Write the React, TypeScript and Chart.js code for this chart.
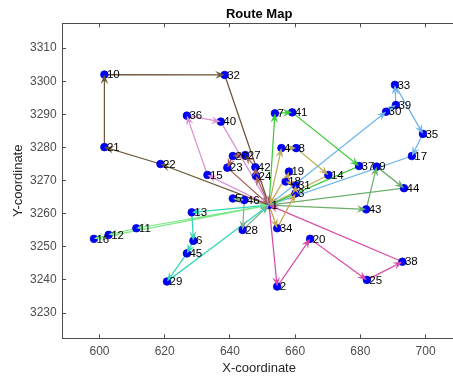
import React, { useEffect, useRef } from "react";
import { Chart, registerables } from "chart.js";

Chart.register(...registerables);

// Node labels and coordinates (node 1 is the depot)
const pointLabels = [
  "1", "2", "3", "4", "5", "6", "7", "8", "9", "10",
  "11", "12", "13", "14", "15", "16", "17", "18", "19", "20",
  "21", "22", "23", "24", "25", "26", "27", "28", "29", "30",
  "31", "32", "33", "34", "35", "36", "37", "38", "39", "40",
  "41", "42", "43", "44", "45", "46",
];
const pointX = [
  652.0, 654.5, 660.1, 655.8, 640.9, 628.8, 653.8, 660.3, 685.0, 601.5,
  611.3, 602.8, 628.3, 670.2, 633.1, 598.3, 695.8, 657.1, 658.1, 664.6,
  601.5, 618.7, 639.2, 648.0, 682.0, 640.9, 644.7, 643.9, 620.7, 687.9,
  660.1, 638.4, 690.6, 654.5, 699.2, 626.8, 679.6, 692.9, 690.9, 637.2,
  659.1, 647.8, 681.8, 693.4, 626.8, 644.4,
];
const pointY = [
  3262.6, 3238.0, 3266.1, 3279.8, 3264.6, 3251.8, 3290.3, 3279.8, 3274.2, 3302.0,
  3255.6, 3253.6, 3260.4, 3271.7, 3271.7, 3252.4, 3277.4, 3269.7, 3272.7, 3252.4,
  3280.1, 3275.0, 3273.9, 3271.4, 3240.0, 3277.4, 3277.7, 3255.1, 3239.5, 3290.8,
  3268.6, 3301.9, 3298.9, 3255.6, 3284.1, 3289.6, 3274.4, 3245.5, 3292.8, 3287.8,
  3290.6, 3274.0, 3261.3, 3267.7, 3248.0, 3264.1,
];

// Vehicle routes as sequences of node labels
const routes = [
  [1, 22, 21, 10, 32, 1],
  [1, 15, 36, 40, 1],
  [1, 24, 42, 27, 26, 23, 1],
  [1, 7, 41, 37, 1],
  [1, 4, 8, 14, 1],
  [1, 34, 3, 31, 18, 19, 1],
  [1, 30, 39, 33, 35, 17, 1],
  [1, 43, 9, 44, 1],
  [1, 2, 20, 25, 38, 1],
  [1, 13, 6, 45, 29, 1],
  [1, 11, 12, 16, 1],
  [1, 5, 46, 28, 1],
];
const routeColors = [
  "#6b5838", "#de8fd6", "#a8605e", "#3ccb3c", "#bcae5c", "#c9a24f",
  "#6fb6ec", "#6aae6a", "#d84aa6", "#33d8b6", "#7ce886", "#86ae90",
];

const xTicks = [600, 620, 640, 660, 680, 700];
const yTicks = [3230, 3240, 3250, 3260, 3270, 3280, 3290, 3300, 3310];

const FONT = "'Liberation Sans', Arial, Helvetica, sans-serif";
const AXIS_COLOR = "#4d4d4d";

const arrowPlugin = {
  id: "arrowHeads",
  afterDatasetsDraw(chart: any) {
    const ctx = chart.ctx;
    ctx.save();
    chart.data.datasets.forEach((ds: any, di: number) => {
      if (!ds.isRoute) return;
      const meta = chart.getDatasetMeta(di);
      const pts = meta.data;
      for (let i = 1; i < pts.length; i++) {
        const a = pts[i - 1];
        const b = pts[i];
        const dx = b.x - a.x;
        const dy = b.y - a.y;
        const len = Math.hypot(dx, dy);
        if (len < 1) continue;
        const ux = dx / len;
        const uy = dy / len;
        const nx = -uy;
        const ny = ux;
        const L = 9.5;
        const W = 3.8;
        ctx.beginPath();
        ctx.moveTo(b.x, b.y);
        ctx.lineTo(b.x - ux * L + nx * W, b.y - uy * L + ny * W);
        ctx.lineTo(b.x - ux * L * 0.62, b.y - uy * L * 0.62);
        ctx.lineTo(b.x - ux * L - nx * W, b.y - uy * L - ny * W);
        ctx.closePath();
        ctx.fillStyle = ds.borderColor;
        ctx.fill();
      }
    });
    ctx.restore();
  },
};

const labelPlugin = {
  id: "pointLabels",
  afterDraw(chart: any) {
    const ctx = chart.ctx;
    const meta = chart.getDatasetMeta(0);
    ctx.save();
    ctx.font = `11.5px ${FONT}`;
    ctx.fillStyle = "#000000";
    ctx.textAlign = "left";
    ctx.textBaseline = "middle";
    meta.data.forEach((el: any, i: number) => {
      ctx.fillText(pointLabels[i], el.x + 2.5, el.y + 0.5);
    });
    ctx.restore();
  },
};

export default function App() {
  const canvasRef = useRef<HTMLCanvasElement | null>(null);

  useEffect(() => {
    if (!canvasRef.current) return;
    const byLabel = (n: number) => {
      const i = pointLabels.indexOf(String(n));
      return { x: pointX[i], y: pointY[i] };
    };
    const pointsDataset = {
      type: "scatter",
      label: "Nodes",
      data: pointX.map((x, i) => ({ x, y: pointY[i] })),
      backgroundColor: "#0000ff",
      borderColor: "#0000c8",
      borderWidth: 0.8,
      pointRadius: 3.8,
      showLine: false,
      order: 0,
    };
    const routeDatasets = routes.map((r, k) => ({
      type: "scatter",
      label: `Route ${k + 1}`,
      isRoute: true,
      data: r.map(byLabel),
      showLine: true,
      borderColor: routeColors[k],
      backgroundColor: routeColors[k],
      borderWidth: 1.25,
      pointRadius: 0,
      pointHoverRadius: 0,
      order: 1,
    }));

    const tickScaleCommon = {
      grid: {
        display: true,
        drawOnChartArea: false,
        drawTicks: true,
        tickLength: -4,
        color: AXIS_COLOR,
        lineWidth: 1,
      },
      border: { display: true, color: AXIS_COLOR, width: 1 },
    };
    const plain = (v: any) => String(v);

    const chart = new Chart(canvasRef.current, {
      type: "scatter",
      data: { datasets: [pointsDataset, ...routeDatasets] as any },
      plugins: [arrowPlugin, labelPlugin],
      options: {
        animation: false,
        responsive: false,
        maintainAspectRatio: false,
        devicePixelRatio: 1,
        layout: { padding: 0 },
        plugins: {
          legend: { display: false },
          tooltip: { enabled: false },
          title: {
            display: true,
            text: "Route Map",
            fullSize: false,
            color: "#000000",
            font: { family: FONT, size: 13, weight: "bold" },
            padding: { top: 6.7, bottom: 1 },
          },
        },
        scales: {
          x: {
            type: "linear",
            position: "bottom",
            min: 588.5,
            max: 709.4,
            afterBuildTicks: (s: any) => {
              s.ticks = xTicks.map((v) => ({ value: v }));
            },
            afterFit: (s: any) => {
              s.height = 39.7;
            },
            ...tickScaleCommon,
            ticks: {
              padding: 10.2,
              color: AXIS_COLOR,
              font: { family: FONT, size: 12 },
              maxRotation: 0,
              autoSkip: false,
              callback: plain,
            },
            title: {
              display: true,
              text: "X-coordinate",
              color: "#262626",
              font: { family: FONT, size: 13 },
              padding: { top: 0, bottom: 2.2 },
            },
          },
          x2: {
            type: "linear",
            position: "top",
            min: 588.5,
            max: 709.4,
            afterBuildTicks: (s: any) => {
              s.ticks = xTicks.map((v) => ({ value: v }));
            },
            afterFit: (s: any) => {
              s.height = 0;
            },
            ...tickScaleCommon,
            ticks: { display: false },
          },
          y: {
            type: "linear",
            position: "left",
            min: 3222.36,
            max: 3317.5,
            afterBuildTicks: (s: any) => {
              s.ticks = yTicks.map((v) => ({ value: v }));
            },
            afterFit: (s: any) => {
              s.width = 62;
            },
            ...tickScaleCommon,
            ticks: {
              padding: 9.3,
              color: AXIS_COLOR,
              font: { family: FONT, size: 12 },
              autoSkip: false,
              callback: plain,
            },
            title: {
              display: true,
              text: "Y-coordinate",
              color: "#262626",
              font: { family: FONT, size: 13 },
              padding: { top: 10.5, bottom: 0 },
            },
          },
        },
      } as any,
    });
    return () => chart.destroy();
  }, []);

  return (
    <div
      style={{
        position: "fixed",
        left: 0,
        top: 0,
        width: 453,
        height: 378,
        overflow: "hidden",
        background: "#ffffff",
      }}
    >
      <canvas ref={canvasRef} width={461} height={378} style={{ display: "block" }} />
    </div>
  );
}
